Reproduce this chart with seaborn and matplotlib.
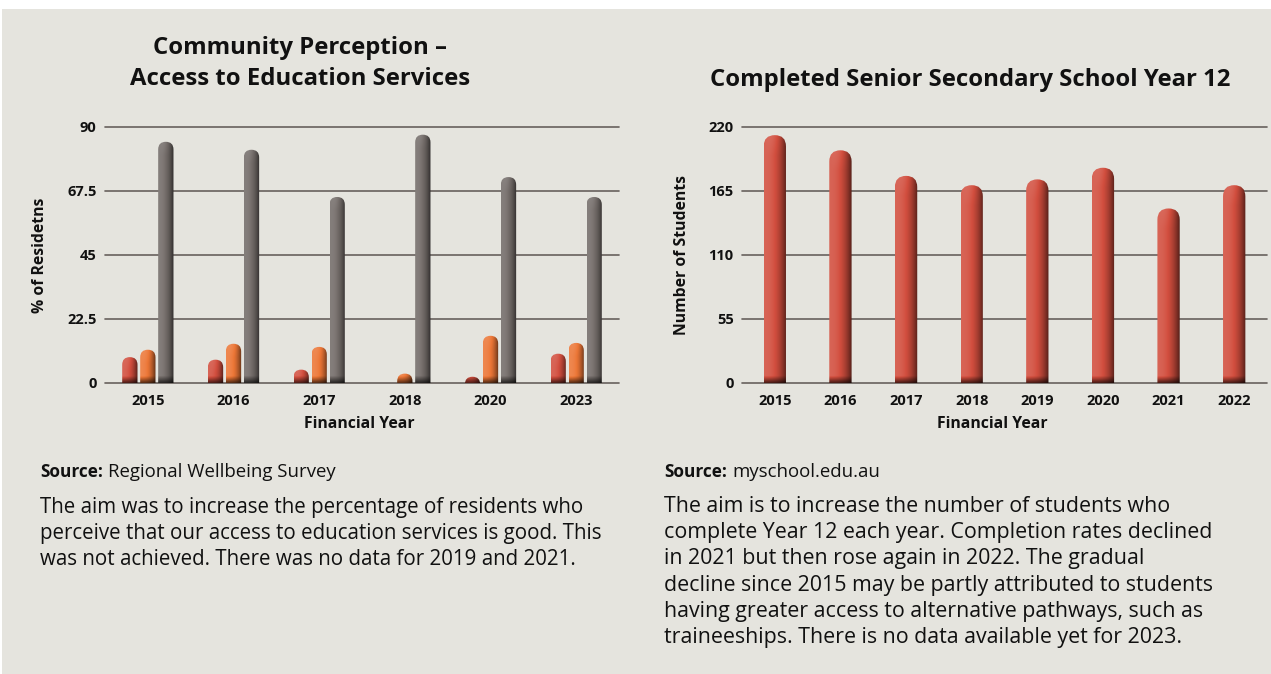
import numpy as np
import pandas as pd
import matplotlib
matplotlib.use("Agg")
import matplotlib.pyplot as plt
import seaborn as sns
from matplotlib.patches import FancyBboxPatch, Rectangle
from matplotlib.colors import to_rgb

# ---------------- data ----------------
left_years = ["2015", "2016", "2017", "2018", "2020", "2023"]
left_series_a = [9.1, 8.2, 4.7, 0.0, 2.2, 10.3]      # red
left_series_b = [11.7, 13.8, 12.7, 3.3, 16.6, 14.1]  # orange
left_series_c = [84.8, 82.0, 65.4, 87.3, 72.4, 65.4] # grey
left_ticks = [0, 22.5, 45, 67.5, 90]
left_tick_labels = ["0", "22.5", "45", "67.5", "90"]

right_years = ["2015", "2016", "2017", "2018", "2019", "2020", "2021", "2022"]
right_values = [213, 200, 178, 170, 175, 185, 150, 170]
right_ticks = [0, 55, 110, 165, 220]
right_tick_labels = ["0", "55", "110", "165", "220"]

BG = "#e5e4de"
GRID = "#67605d"
RED = "#d24e3e"
ORANGE = "#ec7636"
GREY = "#736c69"
TXT = "#111111"

sns.set_theme(style="white")
plt.rcParams["font.family"] = ["Open Sans", "DejaVu Sans"]

W, H = 1271, 674
fig = plt.figure(figsize=(W / 100, H / 100), dpi=100)
fig.patch.set_facecolor("white")
fig.add_artist(Rectangle((2 / W, 0), 1 - 2 / W, (H - 9) / H, transform=fig.transFigure,
                         facecolor=BG, edgecolor="none", zorder=-10))


def fx(px):
    return px / W


def fy(py):
    return 1 - py / H


ax1 = fig.add_axes([fx(105), fy(383), (619 - 105) / W, 256 / H])
ax2 = fig.add_axes([fx(742), fy(383), (1267 - 742) / W, 256 / H])
for ax in (ax1, ax2):
    ax.set_facecolor("none")

# ---------------- left chart ----------------
df_left = pd.DataFrame({
    "year": left_years * 3,
    "series": ["a"] * 6 + ["b"] * 6 + ["c"] * 6,
    "value": left_series_a + left_series_b + left_series_c,
})
sns.barplot(data=df_left, x="year", y="value", hue="series",
            palette=[RED, ORANGE, GREY], width=0.63, gap=0.15,
            legend=False, ax=ax1, saturation=1, errorbar=None)

# ---------------- right chart ----------------
df_right = pd.DataFrame({"year": right_years, "value": right_values})
sns.barplot(data=df_right, x="year", y="value", color=RED, width=0.34,
            ax=ax2, saturation=1, errorbar=None)

AXFS = 11.3


def style_axis(ax, ticks, labels, ylim, ncat):
    ax.set_ylim(*ylim)
    ax.set_xlim(-0.5, ncat - 0.5)
    ax.set_yticks(ticks)
    ax.set_yticklabels(labels)
    for s in ax.spines.values():
        s.set_visible(False)
    ax.grid(axis="y", color=GRID, linewidth=1.2, zorder=0)
    ax.grid(axis="x", visible=False)
    ax.set_axisbelow(True)
    for ln in ax.get_ygridlines():
        ln.set_clip_on(False)
    ax.tick_params(axis="both", length=0, labelsize=10.5, colors=TXT)
    ax.tick_params(axis="y", pad=6)
    ax.tick_params(axis="x", pad=8)
    for t in ax.get_xticklabels() + ax.get_yticklabels():
        t.set_fontweight("bold")


style_axis(ax1, left_ticks, left_tick_labels, (0, 90), len(left_years))
style_axis(ax2, right_ticks, right_tick_labels, (0, 220), len(right_years))

ax1.set_xlabel("Financial Year", fontsize=AXFS, fontweight="bold", color=TXT, va="center")
ax1.set_ylabel("% of Residetns", fontsize=AXFS, fontweight="bold", color=TXT, va="center")
ax1.xaxis.set_label_coords((359 - 105) / 514, (383 - 424) / 256)
ax1.yaxis.set_label_coords((40 - 105) / 514, 0.5)
ax2.set_xlabel("Financial Year", fontsize=AXFS, fontweight="bold", color=TXT, va="center")
ax2.set_ylabel("Number of Students", fontsize=AXFS, fontweight="bold", color=TXT, va="center")
ax2.xaxis.set_label_coords((992 - 742) / 525, (383 - 424) / 256)
ax2.yaxis.set_label_coords((682 - 742) / 525, 0.5)


def shade(rgb, f):
    rgb = np.asarray(rgb)
    if f >= 1:
        return rgb + (1 - rgb) * min(f - 1, 1)
    return rgb * f


def cylinderize(ax):
    fig.canvas.draw()
    p0 = ax.transData.transform((0, 0))
    p1 = ax.transData.transform((1, 1))
    ppx = p1[0] - p0[0]
    ppy = p1[1] - p0[1]
    aspect = ppx / ppy
    bars = [p for p in ax.patches if isinstance(p, Rectangle)]
    for p in bars:
        x0 = p.get_x()
        w = p.get_width()
        h = p.get_height()
        base = np.array(to_rgb(p.get_facecolor()))
        p.set_visible(False)
        r = w / 2
        ry = r * aspect
        ybot = -2 * ry
        clip = FancyBboxPatch((x0, ybot), w, h - ybot,
                              boxstyle=f"round,pad=0,rounding_size={r}",
                              mutation_aspect=aspect, transform=ax.transData,
                              facecolor="none", edgecolor="none")
        ax.add_patch(clip)
        N, M = 48, 400
        t = np.linspace(0, 1, N)
        hf = 1.12 - 0.72 * t ** 2.4
        ys = np.linspace(ybot, h, M)
        ypx = ys * ppy
        vf = np.clip(0.32 + 0.68 * (ypx / 7.0), 0.32, 1.0)
        top_px = (h - ys) * ppy
        cap = np.clip(1 - top_px / (w * ppx * 0.9), 0, 1)
        img = np.zeros((M, N, 3))
        for i in range(M):
            for j in range(N):
                f = hf[j] * vf[i]
                f = f + 0.08 * cap[i] * np.sin(np.pi * t[j])
                img[i, j] = shade(base, f)
        im = ax.imshow(np.clip(img, 0, 1), extent=(x0, x0 + w, ybot, h), origin="lower",
                       aspect="auto", interpolation="bilinear", zorder=3)
        im.set_clip_path(clip)


cylinderize(ax1)
cylinderize(ax2)
ax1.set_ylim(0, 90)
ax1.set_xlim(-0.5, len(left_years) - 0.5)
ax2.set_ylim(0, 220)
ax2.set_xlim(-0.5, len(right_years) - 0.5)

# ---------------- titles ----------------
TFS = 17.2
fig.text(fx(300), fy(54), "Community Perception –", ha="center", va="baseline",
         fontsize=TFS, fontweight="bold", color=TXT)
fig.text(fx(300), fy(85), "Access to Education Services", ha="center", va="baseline",
         fontsize=TFS, fontweight="bold", color=TXT)
fig.text(fx(970), fy(86), "Completed Senior Secondary School Year 12", ha="center",
         va="baseline", fontsize=TFS, fontweight="bold", color=TXT)

# ---------------- source / notes ----------------
left_source = "Regional Wellbeing Survey"
right_source = "myschool.edu.au"
left_note = ["The aim was to increase the percentage of residents who",
             "perceive that our access to education services is good. This",
             "was not achieved. There was no data for 2019 and 2021."]
right_note = ["The aim is to increase the number of students who",
              "complete Year 12 each year. Completion rates declined",
              "in 2021 but then rose again in 2022. The gradual",
              "decline since 2015 may be partly attributed to students",
              "having greater access to alternative pathways, such as",
              "traineeships. There is no data available yet for 2023."]

renderer = fig.canvas.get_renderer()
SFS = 13


def source_line(xpx, text):
    t = fig.text(fx(xpx), fy(477), "Source:", ha="left", va="baseline", fontsize=SFS - 0.6,
                 fontweight="bold", color=TXT)
    bb = t.get_window_extent(renderer)
    fig.text(fx(bb.x1 + 5), fy(477), text, ha="left", va="baseline", fontsize=SFS + 0.4,
             color=TXT)


source_line(40, left_source)
source_line(664, right_source)
for i, line in enumerate(left_note):
    fig.text(fx(40), fy(512.5 + 26.3 * i), line, ha="left", va="baseline",
             fontsize=14.8, color=TXT)
for i, line in enumerate(right_note):
    fig.text(fx(664), fy(511.7 + 26.3 * i), line, ha="left", va="baseline",
             fontsize=15.4, color=TXT)

fig.savefig("out.png", dpi=100, facecolor=fig.get_facecolor())
